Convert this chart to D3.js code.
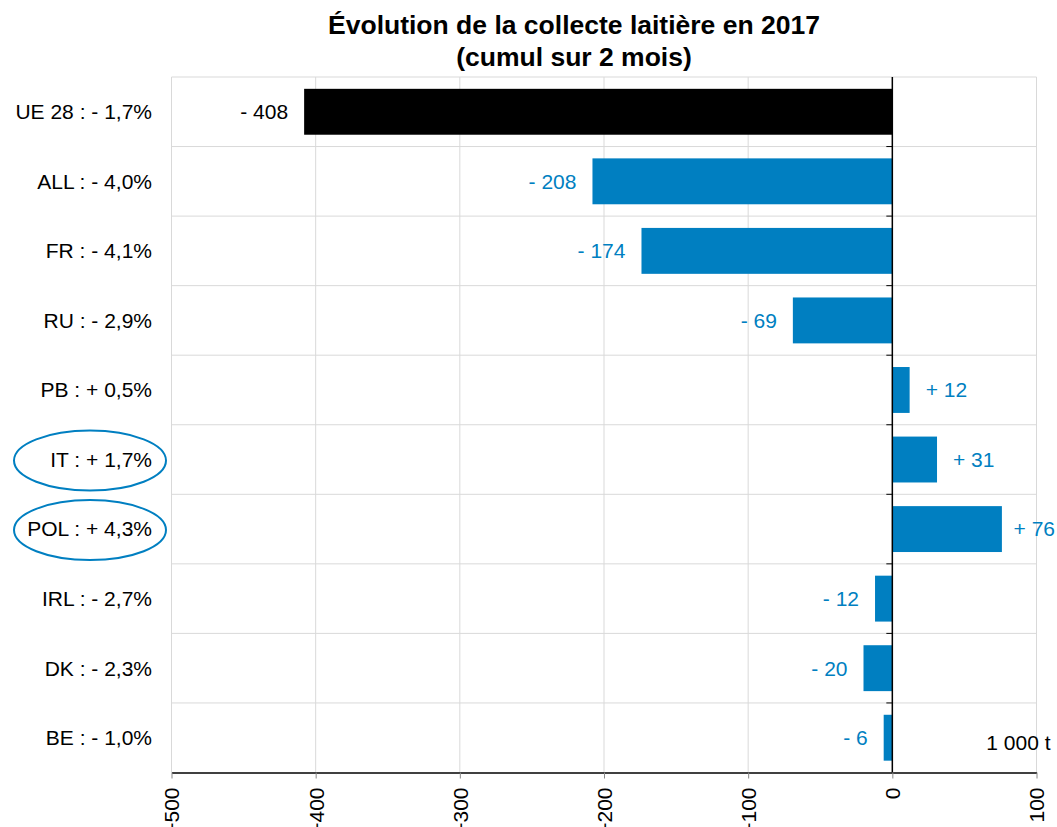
<!DOCTYPE html>
<html>
<head>
<meta charset="utf-8">
<script src="https://cdn.jsdelivr.net/npm/d3@7"></script>
<style>
  body { margin: 0; background: #fff; }
  text { font-family: "Liberation Sans", Arial, sans-serif; }
</style>
</head>
<body>
<div id="drawing"></div>
<script>
const width = 1057;
const height = 827;
const margin = {top: 77, right: 20.5, bottom: 54.5, left: 171.5};

// data
const categories = ["UE 28 : - 1,7%", "ALL : - 4,0%", "FR : - 4,1%", "RU : - 2,9%", "PB : + 0,5%",
                    "IT : + 1,7%", "POL : + 4,3%", "IRL : - 2,7%", "DK : - 2,3%", "BE : - 1,0%"];
const values = [-408, -208, -174, -69, 12, 31, 76, -12, -20, -6];
const valueLabels = ["- 408", "- 208", "- 174", "- 69", "+ 12", "+ 31", "+ 76", "- 12", "- 20", "- 6"];
const xTicks = [-500, -400, -300, -200, -100, 0, 100];
const circled = ["IT : + 1,7%", "POL : + 4,3%"];

const blue = "#007fc1";
const grid = "#d9d9d9";
const fontSize = "21px";

const svg = d3.select("#drawing").append("svg")
  .attr("width", width)
  .attr("height", height);

const innerW = width - margin.left - margin.right;
const innerH = height - margin.top - margin.bottom;

const g = svg.append("g").attr("transform", `translate(${margin.left}, ${margin.top})`);

const x = d3.scaleLinear().domain([-500, 100]).range([0, innerW]);
const y = d3.scaleBand().domain(categories).range([0, innerH]).paddingInner(0.34).paddingOuter(0.17);
const step = y.step();

// title
svg.append("text")
  .attr("x", 574).attr("y", 34)
  .attr("text-anchor", "middle")
  .style("font-size", "26.5px").style("font-weight", "bold")
  .text("Évolution de la collecte laitière en 2017");
svg.append("text")
  .attr("x", 574).attr("y", 66)
  .attr("text-anchor", "middle")
  .style("font-size", "26.5px").style("font-weight", "bold")
  .text("(cumul sur 2 mois)");

// vertical gridlines
g.selectAll(".vgrid")
  .data(xTicks)
  .enter()
  .append("line")
    .attr("x1", d => x(d)).attr("x2", d => x(d))
    .attr("y1", 0).attr("y2", innerH)
    .style("stroke", grid).style("stroke-width", 1);

// horizontal gridlines at row boundaries
const rowEdges = d3.range(categories.length).map(i => i * step);
g.selectAll(".hgrid")
  .data(rowEdges)
  .enter()
  .append("line")
    .attr("x1", 0).attr("x2", innerW)
    .attr("y1", d => d).attr("y2", d => d)
    .style("stroke", grid).style("stroke-width", 1);

// bars
g.selectAll(".bar")
  .data(values)
  .enter()
  .append("rect")
    .attr("x", d => x(Math.min(0, d)))
    .attr("width", d => Math.abs(x(d) - x(0)))
    .attr("y", (d, i) => y(categories[i]))
    .attr("height", y.bandwidth())
    .style("fill", (d, i) => i === 0 ? "#000" : blue);

// value labels
g.selectAll(".vlabel")
  .data(values)
  .enter()
  .append("text")
    .attr("x", d => d < 0 ? x(d) - 16 : x(d) + 16)
    .attr("y", (d, i) => y(categories[i]) + y.bandwidth() / 2)
    .attr("dy", "0.35em")
    .attr("text-anchor", d => d < 0 ? "end" : "start")
    .style("font-size", fontSize)
    .style("fill", (d, i) => i === 0 ? "#000" : blue)
    .text((d, i) => valueLabels[i])
    .each(function() {
      // keep labels inside the chart, like the original
      const w = this.getComputedTextLength();
      const maxX = width - margin.left - 2 - w;
      if (+this.getAttribute("x") > maxX) this.setAttribute("x", maxX);
    });

// zero line with small ticks
g.append("line")
  .attr("x1", x(0)).attr("x2", x(0))
  .attr("y1", 0).attr("y2", innerH)
  .style("stroke", "#000").style("stroke-width", 1.5);
g.selectAll(".ztick")
  .data(rowEdges.slice(1))
  .enter()
  .append("line")
    .attr("x1", x(0) - 6).attr("x2", x(0))
    .attr("y1", d => d).attr("y2", d => d)
    .style("stroke", "#000").style("stroke-width", 1);

// category labels
g.selectAll(".clabel")
  .data(categories)
  .enter()
  .append("text")
    .attr("x", -19.5)
    .attr("y", d => y(d) + y.bandwidth() / 2)
    .attr("dy", "0.35em")
    .attr("text-anchor", "end")
    .style("font-size", fontSize)
    .text(d => d);

// ellipses around highlighted countries
g.selectAll(".ring")
  .data(circled)
  .enter()
  .append("ellipse")
    .attr("cx", 90 - margin.left)
    .attr("cy", d => y(d) + y.bandwidth() / 2 + 1)
    .attr("rx", 76)
    .attr("ry", 30)
    .style("fill", "none")
    .style("stroke", blue)
    .style("stroke-width", 2);

// x axis
const xAxis = g.append("g")
  .attr("transform", `translate(0, ${innerH})`)
  .call(d3.axisBottom(x).tickValues(xTicks).tickFormat(d3.format("d")).tickSize(6).tickSizeOuter(0));
xAxis.select(".domain").style("stroke", "#000").style("stroke-width", 1.5);
xAxis.selectAll(".tick line").style("stroke", "#888");
xAxis.selectAll(".tick text")
  .attr("transform", "rotate(-90)")
  .attr("x", -15).attr("y", 0).attr("dy", "0.35em")
  .attr("text-anchor", "end")
  .style("font-size", fontSize)
  .style("font-family", "'Liberation Sans', Arial, sans-serif")
  .style("fill", "#000");

// unit label
g.append("text")
  .attr("x", innerW + 14)
  .attr("y", y(categories[categories.length - 1]) + y.bandwidth() / 2 + 12)
  .attr("text-anchor", "end")
  .style("font-size", fontSize)
  .text("1 000 t");
</script>
</body>
</html>
